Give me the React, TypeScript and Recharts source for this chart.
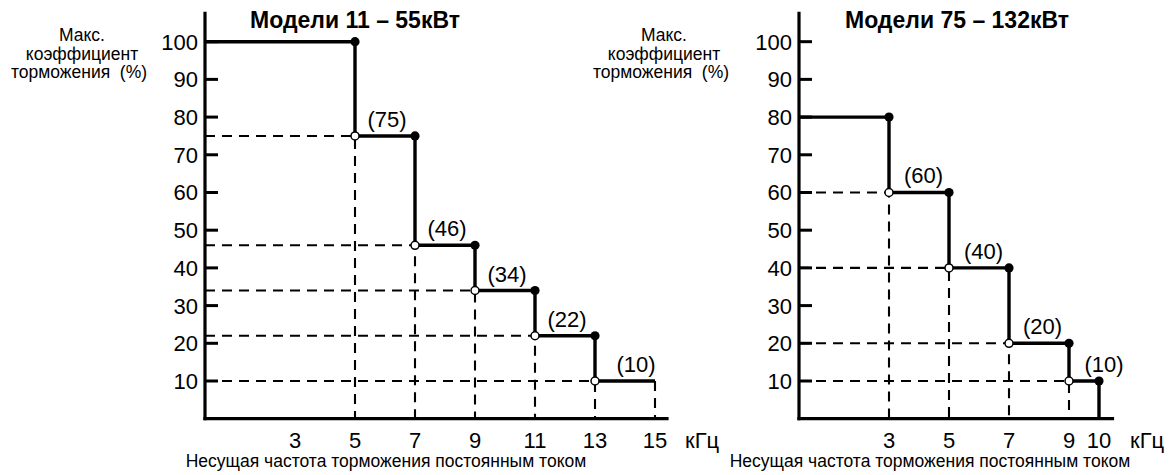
import { ComposedChart, Line, XAxis, YAxis } from "recharts";

// ---- data ----
const yTicks = [10, 20, 30, 40, 50, 60, 70, 80, 90, 100];

// Models 11–55 kW
const leftStepX = [0, 5, 7, 9, 11, 13, 15];
const leftLevels = [100, 75, 46, 34, 22, 10];
const leftTicksX = [3, 5, 7, 9, 11, 13, 15];
const leftLabelX = [6.07, 8.07, 10.07, 12.07, 14.37];

// Models 75–132 kW
const rightStepX = [0, 3, 5, 7, 9, 10];
const rightLevels = [80, 60, 40, 20, 10];
const rightTicksX = [3, 5, 7, 9, 10];
const rightLabelX = [4.15, 6.15, 8.12, 10.17];

const FONT = "'Liberation Sans', Arial, sans-serif";
const BLACK = "#000";

type Pt = { x: number; y: number; kind?: string; label?: string };

// step line as explicit corner points, dot kind decides the marker
function stepPoints(xs: number[], levels: number[], lastFilled: boolean, dropToZero: boolean): Pt[] {
  const pts: Pt[] = [];
  levels.forEach((lv, i) => {
    pts.push({ x: xs[i], y: lv, kind: i === 0 ? "none" : "open" });
    const last = i === levels.length - 1;
    pts.push({ x: xs[i + 1], y: lv, kind: last && !lastFilled ? "none" : "filled" });
  });
  if (dropToZero) pts.push({ x: xs[levels.length], y: 0, kind: "none" });
  return pts;
}

// dashed guides: from y axis to the open circle, then down to the x axis
function guides(xs: number[], levels: number[]): Pt[][] {
  return levels.slice(1).map((lv, k) => [
    { x: 0, y: lv },
    { x: xs[k + 1], y: lv },
    { x: xs[k + 1], y: 0 },
  ]);
}

function labelPoints(xs: number[], levels: number[]): Pt[] {
  return levels.slice(1).map((lv, k) => ({ x: xs[k], y: lv, label: `(${lv})` }));
}

const StepDot = (props: any) => {
  const { cx, cy, payload } = props;
  if (payload.kind === "filled") return <circle cx={cx} cy={cy} r={4.6} fill={BLACK} />;
  if (payload.kind === "open")
    return <circle cx={cx} cy={cy} r={4} fill="#fff" stroke={BLACK} strokeWidth={1.5} />;
  return <g />;
};

const LabelDot = (props: any) => {
  const { cx, cy, payload } = props;
  return (
    <text x={cx} y={cy - 9} textAnchor="middle" fontSize={22} fontFamily={FONT} fill={BLACK}>
      {payload.label}
    </text>
  );
};

const YTick = (props: any) => {
  const { x, y, payload } = props;
  return (
    <g>
      <line x1={x} x2={x + 13} y1={y} y2={y} stroke={BLACK} strokeWidth={3} />
      <text x={x - 7} y={y} dy="0.36em" textAnchor="end" fontSize={22} fontFamily={FONT} fill={BLACK}>
        {payload.value}
      </text>
    </g>
  );
};

const XTick = (props: any) => {
  const { x, y, payload } = props;
  return (
    <text x={x} y={y} dy={29.5} textAnchor="middle" fontSize={22} fontFamily={FONT} fill={BLACK}>
      {payload.value}
    </text>
  );
};

function StepChart(props: {
  width: number;
  marginLeft: number;
  marginRight: number;
  xMax: number;
  ticksX: number[];
  stepX: number[];
  levels: number[];
  labelX: number[];
  lastFilled: boolean;
  dropToZero: boolean;
  extraGuide?: Pt[];
}) {
  const steps = stepPoints(props.stepX, props.levels, props.lastFilled, props.dropToZero);
  const g = guides(props.stepX, props.levels);
  if (props.extraGuide) g.push(props.extraGuide);
  const labels = labelPoints(props.labelX, props.levels);
  const axisLine = { stroke: BLACK, strokeWidth: 3.2, strokeLinecap: "square" as const };
  return (
    <ComposedChart
      width={props.width}
      height={475}
      margin={{ top: 13.4, right: props.marginRight, bottom: 26.3, left: props.marginLeft }}
    >
      <XAxis
        type="number"
        dataKey="x"
        domain={[0, props.xMax]}
        ticks={props.ticksX}
        axisLine={axisLine}
        tickLine={false}
        tickSize={0}
        tickMargin={0}
        tick={<XTick />}
        height={30}
        interval={0}
      />
      <YAxis
        type="number"
        dataKey="y"
        domain={[0, 107.5]}
        ticks={yTicks}
        axisLine={axisLine}
        tickLine={false}
        tickSize={0}
        tickMargin={0}
        tick={<YTick />}
        width={60}
        interval={0}
      />
      {g.map((seg, i) => (
        <Line
          key={"g" + i}
          data={seg}
          dataKey="y"
          type="linear"
          stroke={BLACK}
          strokeWidth={2.1}
          strokeDasharray="10 7"
          dot={false}
          activeDot={false}
          isAnimationActive={false}
        />
      ))}
      <Line
        data={steps}
        dataKey="y"
        type="linear"
        stroke={BLACK}
        strokeWidth={3.4}
        dot={<StepDot />}
        activeDot={false}
        isAnimationActive={false}
      />
      <Line
        data={labels}
        dataKey="y"
        stroke="none"
        dot={<LabelDot />}
        activeDot={false}
        isAnimationActive={false}
      />
    </ComposedChart>
  );
}

const txt = { fontFamily: FONT, fill: BLACK } as const;

export default function App() {
  return (
    <div style={{ position: "absolute", left: 0, top: 0, width: 1173, height: 475, background: "#fff" }}>
      <svg width={1173} height={475} style={{ position: "absolute", left: 0, top: 0 }}>
        <text x={355} y={28} textAnchor="middle" fontSize={23} fontWeight="bold" {...txt}>
          Модели 11 – 55кВт
        </text>
        <text x={957} y={28} textAnchor="middle" fontSize={23} fontWeight="bold" {...txt}>
          Модели 75 – 132кВт
        </text>
        {[82, 664].map((cx) => (
          <g key={cx} fontSize={17.5} {...txt}>
            <text x={cx} y={41} textAnchor="middle">Макс.</text>
            <text x={cx} y={60} textAnchor="middle">коэффициент</text>
            <text x={cx - 3} y={78} textAnchor="middle" style={{ whiteSpace: "pre" }}>
              торможения  (%)
            </text>
          </g>
        ))}
        <text x={386} y={467} textAnchor="middle" fontSize={17.5} {...txt}>
          Несущая частота торможения постоянным током
        </text>
        <text x={930} y={467} textAnchor="middle" fontSize={17.5} {...txt}>
          Несущая частота торможения постоянным током
        </text>
        <text x={685} y={448} fontSize={22} {...txt}>кГц</text>
        <text x={1130} y={448} fontSize={22} {...txt}>кГц</text>
      </svg>
      <div style={{ position: "absolute", left: 0, top: 0 }}>
        <StepChart
          width={700}
          marginLeft={145}
          marginRight={33}
          xMax={15.4}
          ticksX={leftTicksX}
          stepX={leftStepX}
          levels={leftLevels}
          labelX={leftLabelX}
          lastFilled={false}
          dropToZero={false}
          extraGuide={[
            { x: leftStepX[6], y: leftLevels[5] },
            { x: leftStepX[6], y: 0 },
          ]}
        />
      </div>
      <div style={{ position: "absolute", left: 700, top: 0 }}>
        <StepChart
          width={473}
          marginLeft={39}
          marginRight={60.5}
          xMax={10.45}
          ticksX={rightTicksX}
          stepX={rightStepX}
          levels={rightLevels}
          labelX={rightLabelX}
          lastFilled={true}
          dropToZero={true}
        />
      </div>
    </div>
  );
}
